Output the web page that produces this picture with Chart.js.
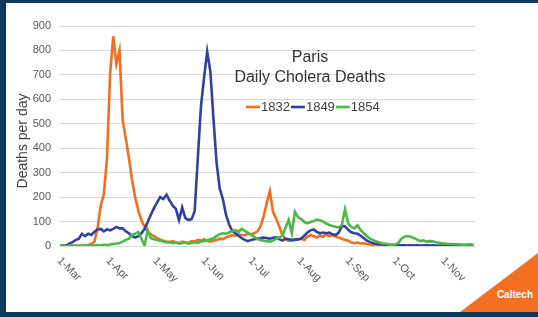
<!DOCTYPE html>
<html>
<head>
<meta charset="utf-8">
<title>Paris Daily Cholera Deaths</title>
<script src="https://cdn.jsdelivr.net/npm/chart.js@4.4.0/dist/chart.umd.min.js"></script>
<style>
  html, body { margin: 0; padding: 0; }
  body {
    width: 538px; height: 317px; overflow: hidden; position: relative;
    background: #0b3a5e;
    font-family: "Liberation Sans", Arial, sans-serif;
  }
  #panel { position: absolute; left: 6px; top: 3px; right: 0; height: 309px; background: #fff; }
  #logo {
    position: absolute; right: 0; top: 253px; width: 78px; height: 59px;
    background: #f37021;
    clip-path: polygon(100% 0, 100% 100%, 0 100%);
  }
  #logo span {
    position: absolute; right: 5px; top: 36px; line-height: 10px;
    color: #fff; font: bold 10px "Liberation Sans", Arial, sans-serif;
  }
  #chart { position: absolute; left: 0; top: 0; }
</style>
</head>
<body>
<div id="panel"></div>
<div id="logo"><span>Caltech</span></div>
<canvas id="chart" width="538" height="317"></canvas>
<script>
// one value every 2 days, starting 1 March
var dayStep = 2;

var deaths1832 = [
  0, 0, 1, 0, 1, 1, 2, 1, 3, 4,
  8, 18, 75, 165, 212, 360, 705, 858, 745, 800,
  515, 440, 360, 270, 200, 145, 105, 78, 58, 48,
  40, 32, 26, 22, 18, 16, 20, 14, 12, 18,
  15, 12, 20, 18, 25, 22, 28, 20, 18, 22,
  25, 30, 28, 35, 40, 45, 42, 48, 45, 44,
  50, 48, 52, 60, 80, 120, 175, 225, 140, 112,
  80, 45, 28, 22, 22, 25, 28, 30, 25, 38,
  45, 40, 35, 42, 38, 48, 40, 45, 38, 35,
  30, 25, 22, 14, 12, 14, 10, 11, 8, 6,
  5, 3, 2, 2, 1, 2, 1, 1, 2, 1,
  1, 1, 0, 1, 1, 0, 1, 0, 1, 0,
  0, 1, 0, 0, 1, 0, 0, 0, 0, 0,
  0, 0, 0
];

var deaths1849 = [
  0, 2, 3, 10, 16, 24, 30, 50, 40, 50,
  45, 58, 68, 70, 60, 68, 64, 70, 78, 72,
  72, 60, 52, 40, 34, 40, 52, 70, 98, 128,
  155, 178, 200, 192, 210, 186, 165, 152, 106, 158,
  115, 106, 110, 142, 360, 570, 690, 795, 715, 520,
  340, 235, 192, 128, 88, 62, 52, 42, 32, 25,
  20, 25, 28, 30, 33, 35, 33, 30, 34, 35,
  28, 22, 30, 28, 25, 26, 27, 30, 42, 55,
  64, 68, 58, 52, 55, 52, 55, 48, 45, 55,
  82, 80, 66, 56, 52, 50, 42, 32, 22, 16,
  11, 9, 7, 6, 5, 4, 5, 3, 4, 3,
  3, 2, 3, 2, 3, 2, 2, 3, 2, 2,
  2, 1, 2, 1, 2, 1, 1, 2, 1, 1,
  1, 2, 1
];

var deaths1854 = [
  0, 1, 0, 1, 2, 1, 2, 1, 3, 2,
  3, 2, 4, 3, 5, 4, 6, 8, 10, 12,
  18, 25, 30, 45, 50, 58, 30, 2, 65, 32,
  28, 25, 22, 18, 15, 16, 12, 14, 10, 12,
  14, 10, 12, 15, 13, 18, 20, 25, 28, 32,
  40, 48, 52, 50, 55, 60, 65, 58, 70, 62,
  55, 45, 38, 28, 25, 22, 20, 18, 22, 30,
  36, 42, 75, 106, 52, 140, 118, 110, 98, 93,
  98, 102, 108, 105, 100, 92, 86, 82, 79, 76,
  86, 150, 92, 78, 72, 85, 65, 52, 40, 30,
  24, 18, 14, 10, 9, 6, 4, 6, 12, 30,
  38, 41, 38, 32, 26, 20, 23, 18, 20, 19,
  15, 13, 11, 10, 8, 8, 7, 7, 6, 5,
  6, 7, 5
];

var seriesNames = ['1832', '1849', '1854'];
var seriesColors = ['#f26f21', '#3141a2', '#4cb848'];

// x axis: day offsets of the month starts and their labels
var monthDays = [0, 31, 61, 92, 122, 153, 184, 214, 245];
var monthLabels = ['1-Mar', '1-Apr', '1-May', '1-Jun', '1-Jul', '1-Aug', '1-Sep', '1-Oct', '1-Nov'];

var yTicks = [0, 100, 200, 300, 400, 500, 600, 700, 800, 900];

var fontFamily = '"Liberation Sans", Arial, Helvetica, sans-serif';

function toPoints(values) {
  return values.map(function(v, i) { return {x: i * dayStep, y: v}; });
}

var allSeries = [deaths1832, deaths1849, deaths1854];

var datasets = allSeries.map(function(values, i) {
  return {
    label: seriesNames[i],
    data: toPoints(values),
    borderColor: seriesColors[i],
    backgroundColor: seriesColors[i],
    borderWidth: 2.6,
    pointRadius: 0,
    tension: 0,
    order: 2 - i
  };
});

// title, legend, axis title and slanted month labels, drawn over the plot like the original
var overlay = {
  id: 'overlay',
  afterDraw: function(chart) {
    var ctx = chart.ctx,
        xs = chart.scales.x,
        area = chart.chartArea;

    ctx.save();

    // month labels, slanting down to the right
    ctx.fillStyle = '#595959';
    ctx.font = '11px ' + fontFamily;
    ctx.textAlign = 'left';
    ctx.textBaseline = 'middle';
    monthDays.forEach(function(d, i) {
      var px = xs.getPixelForValue(d);
      ctx.save();
      ctx.translate(px - 1, area.bottom + 13);
      ctx.rotate(Math.PI / 4);
      ctx.fillText(monthLabels[i], 0, 0);
      ctx.restore();
    });

    // y axis title
    ctx.save();
    ctx.fillStyle = '#404040';
    ctx.font = '14px ' + fontFamily;
    ctx.textAlign = 'center';
    ctx.translate(23, 141);
    ctx.rotate(-Math.PI / 2);
    ctx.fillText('Deaths per day', 0, 0);
    ctx.restore();

    // title
    ctx.fillStyle = '#333333';
    ctx.font = '16px ' + fontFamily;
    ctx.textAlign = 'center';
    ctx.fillText('Paris', 310, 58);
    ctx.fillText('Daily Cholera Deaths', 310, 78);

    // legend
    ctx.font = '13px ' + fontFamily;
    ctx.textAlign = 'left';
    var lx = 246, ly = 107;
    chart.data.datasets.forEach(function(ds) {
      ctx.strokeStyle = ds.borderColor;
      ctx.lineWidth = 2.6;
      ctx.beginPath();
      ctx.moveTo(lx, ly);
      ctx.lineTo(lx + 14, ly);
      ctx.stroke();
      ctx.fillStyle = '#404040';
      ctx.fillText(ds.label, lx + 15, ly);
      lx += 15 + ctx.measureText(ds.label).width + 1;
    });

    ctx.restore();
  }
};

new Chart(document.getElementById('chart'), {
  type: 'line',
  data: {datasets: datasets},
  options: {
    responsive: false,
    devicePixelRatio: 1,
    animation: false,
    layout: {padding: {left: 0, top: 26, right: 63, bottom: 0}},
    plugins: {
      legend: {display: false},
      tooltip: {enabled: false}
    },
    scales: {
      x: {
        type: 'linear',
        min: 0,
        max: 265,
        afterFit: function(s) { s.height = 71; },
        ticks: {display: false},
        grid: {display: false},
        border: {display: true, color: '#d9d9d9', width: 1}
      },
      y: {
        min: 0,
        max: 900,
        afterFit: function(s) { s.width = 60; },
        afterBuildTicks: function(s) {
          s.ticks = yTicks.map(function(v) { return {value: v}; });
        },
        ticks: {
          padding: 9,
          color: '#595959',
          font: {family: fontFamily, size: 11}
        },
        grid: {color: '#d9d9d9', lineWidth: 1, drawTicks: false},
        border: {display: false}
      }
    }
  },
  plugins: [overlay]
});
</script>
</body>
</html>
